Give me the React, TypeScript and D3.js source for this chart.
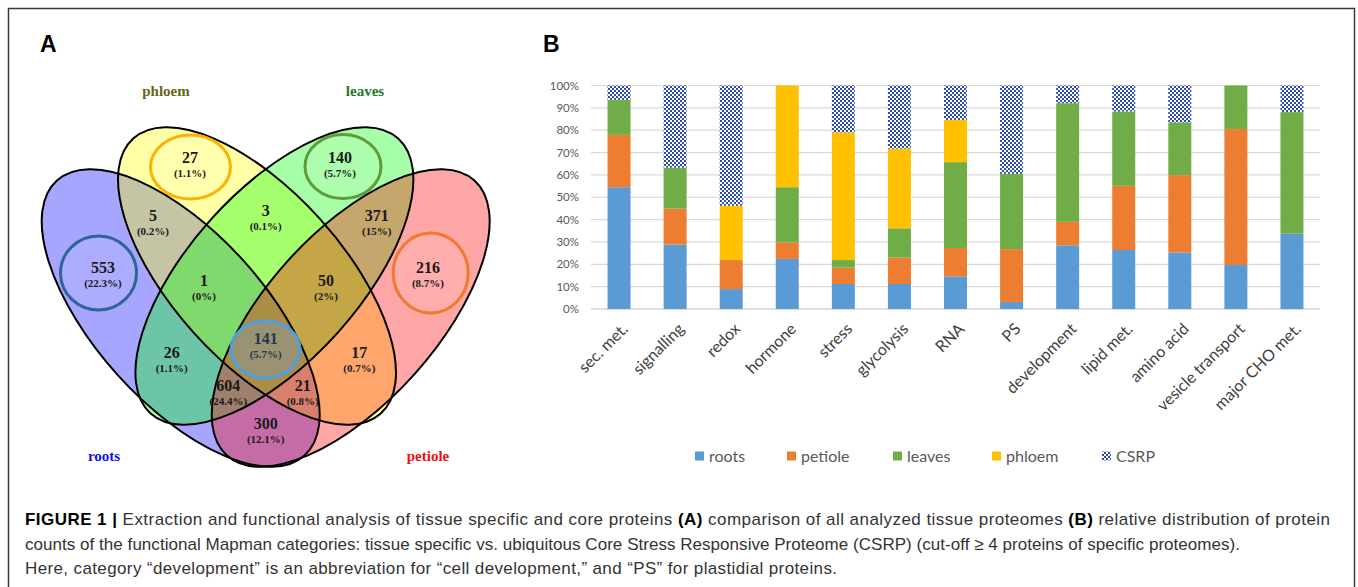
import { useEffect, useRef } from 'react'
import * as d3 from 'd3'

const W = 1358
const H = 587

// ── Panel B: share of proteins per Mapman category (%) ─────────────────────
const CATEGORIES = [
  'sec. met.', 'signalling', 'redox', 'hormone', 'stress', 'glycolysis', 'RNA',
  'PS', 'development', 'lipid met.', 'amino acid', 'vesicle transport', 'major CHO met.',
]
const SERIES = ['roots', 'petiole', 'leaves', 'phloem', 'CSRP']
const ROOTS =   [54.5, 28.8, 8.9, 22.4, 11.2, 11.2, 14.6, 3.1, 28.5, 26.4, 25.3, 19.7, 33.7]
const PETIOLE = [23.4, 16.1, 13.0, 7.4, 7.3, 11.8, 12.7, 23.7, 10.5, 28.7, 34.6, 60.8, 0]
const LEAVES =  [15.7, 18.4, 0, 24.7, 3.4, 13.1, 38.4, 33.7, 53.1, 33.3, 23.6, 19.5, 54.4]
const PHLOEM =  [0, 0, 24.3, 45.5, 57.1, 35.6, 18.9, 0, 0, 0, 0, 0, 0]
const CSRP =    [6.4, 36.7, 53.8, 0, 21.0, 28.3, 15.4, 39.5, 7.9, 11.6, 16.5, 0, 11.9]
const SERIES_COLORS = ['#5b9bd5', '#ed7d31', '#70ad47', '#ffc000', 'url(#csrp)']
const Y_TICKS = [0, 10, 20, 30, 40, 50, 60, 70, 80, 90, 100]

// ── Panel A: Venn diagram of tissue proteomes ─────────────────────────────
const SET_NAMES = ['roots', 'phloem', 'leaves', 'petiole']
const SET_FILLS = ['#0000ff', '#ffff00', '#00ff00', '#ff0000']
const SET_LABEL_COLORS = ['#1212e8', '#666614', '#1f7a2a', '#ee1010']
const REGION_COUNTS = [553, 27, 140, 216, 5, 3, 371, 1, 50, 26, 141, 17, 604, 21, 300]
const REGION_PCTS = ['22.3%', '1.1%', '5.7%', '8.7%', '0.2%', '0.1%', '15%', '0%', '2%', '1.1%', '5.7%', '0.7%', '24.4%', '0.8%', '12.1%']

// geometry (pixels)
const ELLIPSES = [
  { cx: 180.7, cy: 318, rot: 48 },
  { cx: 257, cy: 276, rot: 48 },
  { cx: 274.4, cy: 276, rot: -48 },
  { cx: 350.7, cy: 318, rot: -48 },
]
const ELL_RX = 185
const ELL_RY = 85
const SET_LABEL_POS = [[104, 461], [166, 96], [365, 96], [428, 461]]
const REGION_POS = [
  [103, 267], [190, 157], [340, 157], [428, 267], [153, 215], [265.7, 210], [376.7, 215],
  [204, 280], [326, 280], [171.7, 352], [265.7, 338], [359.3, 352], [228.3, 385], [302.7, 385], [265.7, 423],
]
const RINGS = [
  { cx: 98.5, cy: 273, rx: 38, ry: 37, color: '#2f6496' },
  { cx: 190.5, cy: 167, rx: 40, ry: 32, color: '#ffb000' },
  { cx: 343, cy: 166.5, rx: 38, ry: 32, color: '#5f9a3c' },
  { cx: 430.7, cy: 273, rx: 37.5, ry: 40, color: '#ee7a2c' },
  { cx: 265.5, cy: 349.5, rx: 34.5, ry: 28.5, color: '#4d9fe6' },
]
const LEGEND_X = [695, 787, 893, 992, 1102]

type G = d3.Selection<SVGGElement, unknown, null, undefined>

function drawVenn(g: G) {
  ELLIPSES.forEach((e, i) => {
    g.append('ellipse')
      .attr('cx', e.cx).attr('cy', e.cy).attr('rx', ELL_RX).attr('ry', ELL_RY)
      .attr('transform', `rotate(${e.rot} ${e.cx} ${e.cy})`)
      .attr('fill', SET_FILLS[i]).attr('fill-opacity', 0.35)
  })
  ELLIPSES.forEach((e) => {
    g.append('ellipse')
      .attr('cx', e.cx).attr('cy', e.cy).attr('rx', ELL_RX).attr('ry', ELL_RY)
      .attr('transform', `rotate(${e.rot} ${e.cx} ${e.cy})`)
      .attr('fill', 'none').attr('stroke', '#000').attr('stroke-width', 2)
  })

  RINGS.forEach((r, i) => {
    g.append('ellipse')
      .attr('cx', r.cx).attr('cy', r.cy).attr('rx', r.rx).attr('ry', r.ry)
      .attr('fill', i === 4 ? 'rgba(120,160,200,0.35)' : 'rgba(255,255,255,0.08)')
      .attr('stroke', r.color).attr('stroke-width', 3)
  })

  SET_NAMES.forEach((name, i) => {
    g.append('text')
      .attr('x', SET_LABEL_POS[i][0]).attr('y', SET_LABEL_POS[i][1])
      .attr('text-anchor', 'middle')
      .attr('font-family', '"Liberation Serif", serif').attr('font-weight', 'bold').attr('font-size', 15)
      .attr('fill', SET_LABEL_COLORS[i])
      .text(name)
  })

  REGION_COUNTS.forEach((n, i) => {
    const [px, py] = REGION_POS[i]
    g.append('text')
      .attr('x', px).attr('y', py + 5.5).attr('text-anchor', 'middle')
      .attr('font-family', '"Liberation Serif", serif').attr('font-weight', 'bold').attr('font-size', 16)
      .attr('fill', i === 10 ? '#24384c' : '#1a1a1a')
      .text(n)
    g.append('text')
      .attr('x', px).attr('y', py + 19.5).attr('text-anchor', 'middle')
      .attr('font-family', '"Liberation Serif", serif').attr('font-weight', 'bold').attr('font-size', 11)
      .attr('fill', i === 10 ? '#24384c' : '#1a1a1a')
      .text(`(${REGION_PCTS[i]})`)
  })
}

function drawBars(g: G) {
  const rows = CATEGORIES.map((c, i) => ({
    cat: c, roots: ROOTS[i], petiole: PETIOLE[i], leaves: LEAVES[i], phloem: PHLOEM[i], CSRP: CSRP[i],
  }))
  const x = d3.scaleBand<string>().domain(CATEGORIES).range([591, 1320]).paddingInner(0.59).paddingOuter(0.295)
  const y = d3.scaleLinear().domain([0, 100]).range([309, 85.5])
  const stacked = d3.stack<any>().keys(SERIES)(rows)

  // grid
  g.append('g').selectAll('line').data(Y_TICKS).join('line')
    .attr('x1', 591).attr('x2', 1320)
    .attr('y1', (d) => y(d)).attr('y2', (d) => y(d))
    .attr('stroke', (d) => (d === 0 ? '#bfbfbf' : '#d9d9d9')).attr('stroke-width', 1.2)

  g.append('g').selectAll('text').data(Y_TICKS).join('text')
    .attr('x', 579).attr('y', (d) => y(d) + 4)
    .attr('text-anchor', 'end')
    .attr('font-family', 'Lato, sans-serif').attr('font-size', 11.5).attr('fill', '#595959')
    .text((d) => `${d}%`)

  // bars
  stacked.forEach((layer, si) => {
    g.append('g').selectAll('rect').data(layer).join('rect')
      .attr('x', (d: any) => x(d.data.cat) as number)
      .attr('width', x.bandwidth())
      .attr('y', (d) => y(d[1]))
      .attr('height', (d) => Math.max(0, y(d[0]) - y(d[1])))
      .attr('fill', SERIES_COLORS[si])
  })

  // category labels
  g.append('g').selectAll('text').data(CATEGORIES).join('text')
    .attr('transform', (d) => `translate(${(x(d) as number) + x.bandwidth() / 2 + 6},${326}) rotate(-45)`)
    .attr('text-anchor', 'end')
    .attr('dy', '0.35em')
    .attr('font-family', 'Lato, sans-serif').attr('font-size', 16).attr('fill', '#404040')
    .text((d) => d)

  // legend
  SERIES.forEach((s, i) => {
    g.append('rect')
      .attr('x', LEGEND_X[i]).attr('y', 451.5).attr('width', 9).attr('height', 9)
      .attr('fill', SERIES_COLORS[i])
    g.append('text')
      .attr('x', LEGEND_X[i] + 14).attr('y', 461.5)
      .attr('font-family', 'Lato, sans-serif').attr('font-size', 16).attr('fill', '#595959')
      .text(s)
  })
}

export default function App() {
  const svgRef = useRef<SVGSVGElement | null>(null)

  useEffect(() => {
    if (!svgRef.current) return
    const svg = d3.select(svgRef.current)
    svg.selectAll('g.chart').remove()
    drawVenn(svg.append('g').attr('class', 'chart'))
    drawBars(svg.append('g').attr('class', 'chart'))
  }, [])

  const capFont = '"Liberation Sans", Arial, sans-serif'

  return (
    <svg ref={svgRef} width={W} height={H} style={{ position: 'fixed', left: 0, top: 0, display: 'block', background: '#fff' }}>
      <defs>
        <pattern id="csrp" width={4} height={4} patternUnits="userSpaceOnUse">
          <rect width={4} height={4} fill="#ffffff" />
          <rect width={2} height={2} fill="#2c4ca8" />
          <rect x={2} y={2} width={2} height={2} fill="#2c4ca8" />
        </pattern>
      </defs>
      <rect x={8.5} y={8.5} width={1346} height={620} fill="#fff" stroke="#3a3a3a" strokeWidth={1.5} />
      <text x={40} y={52} fontFamily={capFont} fontWeight="bold" fontSize={23} fill="#000">A</text>
      <text x={543} y={52} fontFamily={capFont} fontWeight="bold" fontSize={23} fill="#000">B</text>

      <g fontFamily={capFont} fontSize={17} fill="#333">
        <text x={25} y={525} textLength={1305} lengthAdjust="spacing">
          <tspan fontWeight="bold" fill="#000">FIGURE 1 |</tspan> Extraction and functional analysis of tissue specific and core proteins <tspan fontWeight="bold" fill="#000">(A)</tspan> comparison of all analyzed tissue proteomes <tspan fontWeight="bold" fill="#000">(B)</tspan> relative distribution of protein
        </text>
        <text x={25} y={550} textLength={1215} lengthAdjust="spacing">
          counts of the functional Mapman categories: tissue specific vs. ubiquitous Core Stress Responsive Proteome (CSRP) (cut-off ≥ 4 proteins of specific proteomes).
        </text>
        <text x={25} y={574} textLength={812} lengthAdjust="spacing">
          Here, category “development” is an abbreviation for “cell development,” and “PS” for plastidial proteins.
        </text>
      </g>
    </svg>
  )
}
